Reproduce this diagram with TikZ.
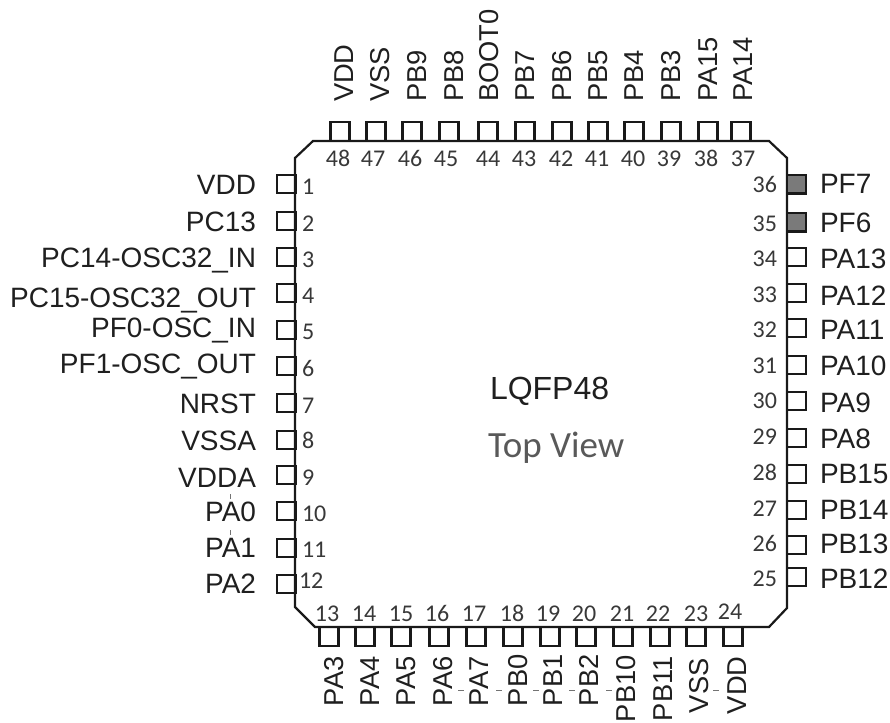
\documentclass[tikz,border=0pt]{standalone}
\usepackage{fontspec}
\setmainfont{Liberation Sans}
\newfontfamily\numfont{Carlito}
\begin{document}
\begin{tikzpicture}[x=1pt,y=-1pt,
  pad/.style={draw=black!90,line width=2.2pt,minimum size=18.5pt,inner sep=0pt,outer sep=0pt,anchor=center},
  padh/.style={pad,minimum width=19pt,minimum height=18.5pt},
  padv/.style={pad,minimum width=19pt,minimum height=19pt},
  hotpad/.style={padh,fill=black!52,line width=2.5pt},
  lab/.style={inner sep=0pt,outer sep=0pt,text=black!88,font=\fontsize{28}{28}\selectfont},
  llab/.style={lab,anchor=base east},
  rlab/.style={lab,anchor=base west},
  ulab/.style={lab,anchor=base west,rotate=90,font=\fontsize{27.3}{27.3}\selectfont},
  num/.style={inner sep=0pt,outer sep=0pt,text=black!78,font=\numfont\fontsize{24}{24}\selectfont},
  lnum/.style={num,anchor=base west},
  rnum/.style={num,anchor=base east},
  cnum/.style={num,anchor=base},
  speck/.style={draw=black!55,line width=0.7pt}]
\useasboundingbox (0,0) rectangle (890,722);
% package outline
\draw[black!90,line width=2.2pt,line join=miter]
  (313,141) -- (769,141) -- (787,158) -- (787,608) -- (769,627) -- (315,627) -- (295,607) -- (295,158) -- cycle;
% left side
\foreach \n/\y/\t/\by/\nb/\nx in {
  1/184/VDD/194/194/302,2/221/PC13/231/231/302,3/257/PC14-OSC32\_IN/267/267/302,
  4/293/PC15-OSC32\_OUT/307/303/302,5/330/PF0-OSC\_IN/337/339/302,6/366/PF1-OSC\_OUT/373/376/302,
  7/403/NRST/413/413/302,8/440/VSSA/450/448/302,9/475/VDDA/487/485/302,
  10/511/PA0/521/521/302,11/548/PA1/557/557/302,12/584/PA2/593/588/299}{
  \node[padh] (p\n) at (286.5,\y) {};
  \node[llab] (t\n) at (256,\by) {\t};
  \node[lnum] (n\n) at (\nx,\nb) {\n};
}
% bottom side
\foreach \n/\x/\t/\lx/\ly/\nc/\nb in {
  13/329/PA3/343/706/327/621,14/365/PA4/379/706/364/621,15/401/PA5/415/706/401/621,
  16/439/PA6/452/706/437/621,17/476/PA7/488/706/474/621,18/513/PB0/527/706/512/621,
  19/550/PB1/562/706/548/621,20/586/PB2/598/706/584/621,21/623/PB10/635/722/622/621,
  22/660/PB11/672/721/658/621,23/696/VSS/708/713/696/621,24/733/VDD/746/714/730/619}{
  \node[padv] (p\n) at (\x,636.5) {};
  \node[ulab] (t\n) at (\lx,\ly) {\t};
  \node[cnum] (n\n) at (\nc,\nb) {\n};
}
% right side
\foreach \n/\y/\t/\by/\nb in {
  34/257/PA13/268/266,33/293/PA12/305/302,32/328/PA11/339/337,31/365/PA10/375/373,
  30/401/PA9/412/408,29/438/PA8/448/444,28/474/PB15/483/480,27/510/PB14/519/516,
  26/545/PB13/553/551,25/577/PB12/588/586}{
  \node[padh] (p\n) at (796.5,\y) {};
  \node[rlab] (t\n) at (820,\by) {\t};
  \node[rnum] (n\n) at (777,\nb) {\n};
}
\foreach \n/\y/\t/\by/\nb in {36/184/PF7/193/192,35/222/PF6/232/231}{
  \node[hotpad] (p\n) at (796.5,\y) {};
  \node[rlab] (t\n) at (820,\by) {\t};
  \node[rnum] (n\n) at (777,\nb) {\n};
}
% top side
\foreach \n/\x/\t/\lx/\nc in {
  48/340/VDD/353/338,47/376/VSS/389/373,46/412/PB9/426/410,45/449/PB8/463/446,
  44/488/BOOT0/498/488,43/525/PB7/534/524,42/562/PB6/571/561,41/598/PB5/607/597,
  40/634/PB4/643/633,39/671/PB3/680/669,38/708/PA15/717/706,37/741/PA14/752/743}{
  \node[padv] (p\n) at (\x,131.5) {};
  \node[ulab] (t\n) at (\lx,102) {\t};
  \node[cnum] (n\n) at (\nc,166) {\n};
}
% title
\node[lab,anchor=base west,font=\fontsize{32}{32}\selectfont] (title) at (490,399) {LQFP48};
\node[inner sep=0pt,anchor=base west,text=black!65,font=\numfont\fontsize{37}{37}\selectfont] (view) at (488,457) {Top View};
% small specks
\foreach \x/\ya/\yb in {230/494/499,230/530/535}{\draw[speck] (\x,\ya) -- (\x,\yb);}
\foreach \x in {461,499,536,572,609,716}{\draw[speck] (\x-3,690) -- (\x+3,690);}
\end{tikzpicture}
\end{document}
